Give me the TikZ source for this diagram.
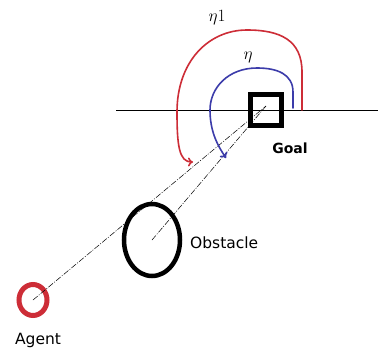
\documentclass[tikz,border=0pt]{standalone}
\usepackage{fontspec}
\setsansfont{DejaVu Sans}
\usetikzlibrary{arrows.meta,shapes.geometric}
\definecolor{arcred}{RGB}{205,45,55}
\definecolor{arcblue}{RGB}{60,60,170}
\begin{document}
\begin{tikzpicture}[x=1pt,y=-1pt,
  lbl/.style={font=\sffamily\fontsize{15.5}{18}\selectfont, inner sep=0pt},
  sight/.style={black, line width=0.5pt, dash pattern=on 6pt off 1.5pt on 1pt off 1.5pt},
  arcline/.style={line width=1.6pt, line cap=round, line join=round},
  etalbl/.style={inner sep=0pt, font=\fontsize{16}{18}\selectfont}]
\useasboundingbox[fill=white] (0,0) rectangle (378,351);
% horizontal reference line
\coordinate (hl) at (116,110);
\coordinate (hr) at (378,110);
\draw[line width=0.8pt] (hl) -- (hr);
% goal
\node[draw, line width=5pt, minimum width=31pt, minimum height=31pt, inner sep=0pt] (goal) at (266,110) {};
\coordinate (gc) at (266,106);
\node[lbl, font=\sffamily\bfseries\fontsize{14}{16}\selectfont] (goallbl) at (290,148) {Goal};
% obstacle
\node[draw, ellipse, line width=4.5pt, minimum width=56pt, minimum height=72pt, inner sep=0pt] (obs) at (152,240) {};
\node[lbl, anchor=west] (obslbl) at (190,243) {Obstacle};
% agent
\node[draw=arcred, ellipse, line width=5pt, minimum width=28pt, minimum height=31pt, inner sep=0pt] (agent) at (33,300) {};
\node[lbl] (agentlbl) at (38,340) {Agent};
% sight lines
\draw[sight] (agent.center) -- (gc);
\draw[sight] (obs.center) -- (gc);
% arcs
\coordinate (rs) at (302,110);
\coordinate (re) at (193,162);
\draw[arcline, arcred, -{To[length=5pt,width=9pt]}] (rs) -- (302,72) .. controls (302,40) and (280,30) .. (247,30) .. controls (208,30) and (177,62) .. (177,112) .. controls (177,145) and (179,162) .. (re);
\coordinate (bs) at (293,108);
\coordinate (be) at (226,158);
\draw[arcline, arcblue, -{To[length=5pt,width=9pt]}] (bs) -- (293,92) .. controls (293,74) and (277,68) .. (257,68) .. controls (228,68) and (210,88) .. (210,110) .. controls (210,132) and (218,146) .. (be);
% labels
\node[etalbl] (eta1) at (217,18) {$\eta1$};
\node[etalbl] (eta) at (248,57) {$\eta$};
\end{tikzpicture}
\end{document}
